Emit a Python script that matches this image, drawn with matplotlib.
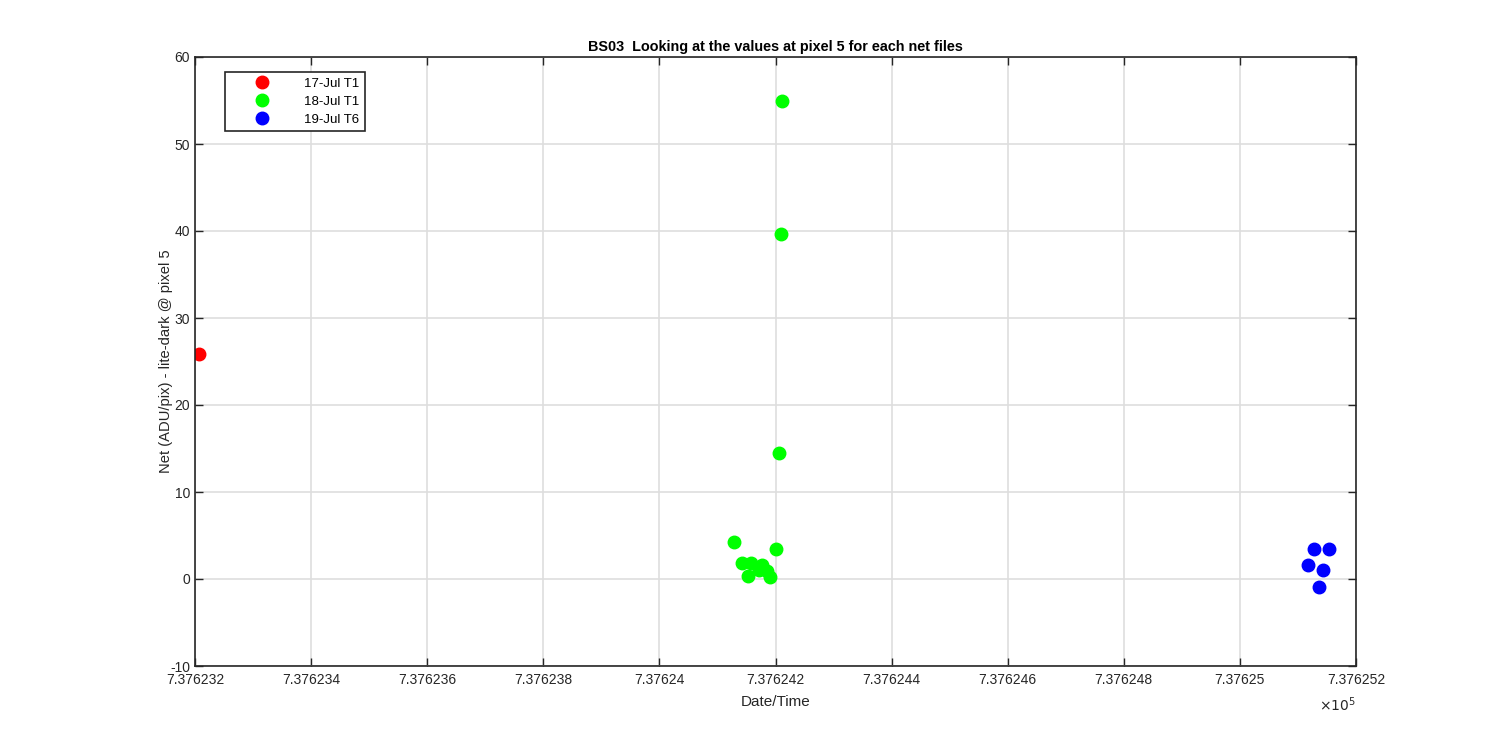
import numpy as np
import matplotlib
matplotlib.use('Agg')
import matplotlib.pyplot as plt
from matplotlib.ticker import FixedLocator, FixedFormatter

plt.rcParams['font.family'] = ['Liberation Sans', 'DejaVu Sans']
plt.rcParams['axes.unicode_minus'] = False

# date numbers (MATLAB datenum) and net values
t_17 = [737623.2064]
v_17 = [25.9]

t_18 = [737624.211, 737624.210, 737624.206, 737624.129, 737624.200, 737624.142,
        737624.158, 737624.152, 737624.176, 737624.172, 737624.185, 737624.190]
v_18 = [54.9, 39.6, 14.5, 4.2, 3.4, 1.8, 1.8, 0.4, 1.6, 1.0, 0.9, 0.2]

t_19 = [737625.127, 737625.154, 737625.117, 737625.144, 737625.136]
v_19 = [3.4, 3.5, 1.6, 1.0, -0.9]

labels = ['17-Jul T1', '18-Jul T1', '19-Jul T6']
colors = ['#ff0000', '#00ff00', '#0000ff']

xticks = np.round(np.arange(737623.2, 737625.21, 0.2), 1)
yticks = np.arange(-10, 61, 10)

fig = plt.figure(figsize=(15, 7.5), dpi=100)
ax = fig.add_axes([0.13, 0.112, 0.774, 0.812])

for t, v, lab, c in zip([t_17, t_18, t_19], [v_17, v_18, v_19], labels, colors):
    ax.plot(t, v, 'o', color=c, markersize=9, label=lab, linestyle='none')

ax.set_xlim(xticks[0], xticks[-1])
ax.set_ylim(-10, 60)
ax.xaxis.set_major_locator(FixedLocator(xticks))
ax.xaxis.set_major_formatter(FixedFormatter(['%.7g' % (x / 1e5) for x in xticks]))
ax.set_yticks(yticks)
ax.grid(True, color='#dedede', linewidth=1.2)
ax.set_axisbelow(True)
ax.tick_params(direction='in', top=True, right=True, length=6, width=1,
               labelsize=10, colors='#262626', labelcolor='#262626')
ax.tick_params(axis='x', pad=5)
for s in ax.spines.values():
    s.set_color('#262626')
    s.set_linewidth(1.2)

ax.text(1.0, -0.048, r'$\times 10^5$', transform=ax.transAxes, ha='right', va='top',
        fontsize=10, color='#262626')

ax.set_title('BS03  Looking at the values at pixel 5 for each net files',
             fontsize=10.4, fontweight='bold', color='black', pad=4)
ax.set_xlabel('Date/Time', fontsize=11, color='#262626', labelpad=6)
ax.set_ylabel('Net (ADU/pix) - lite-dark @ pixel 5', fontsize=10.6, color='#262626', labelpad=-2)

leg = ax.legend(loc='upper left', bbox_to_anchor=(0.026, 0.975), borderaxespad=0,
                fontsize=9.5, frameon=True, fancybox=False, edgecolor='#262626',
                framealpha=1, handlelength=4.8, handletextpad=0.8, borderpad=0.4,
                labelspacing=0.45)
leg.get_frame().set_linewidth(1.2)

fig.savefig('out.png', dpi=100)
